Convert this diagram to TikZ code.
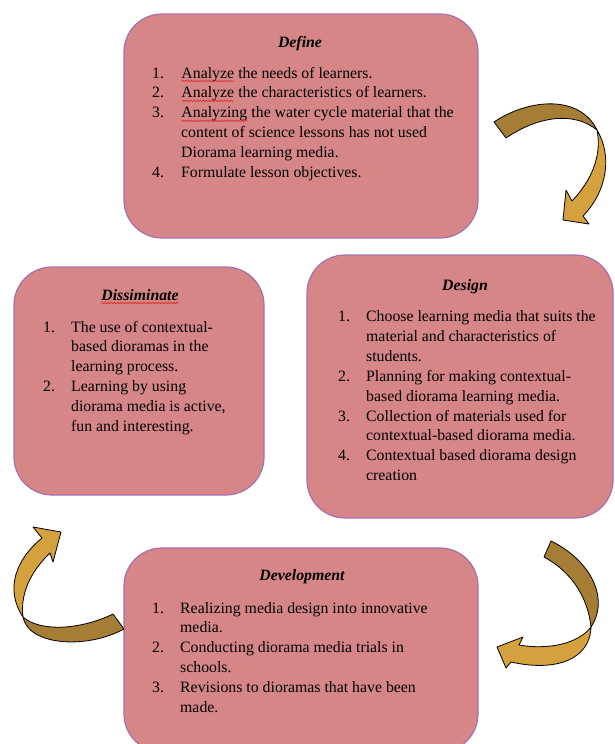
\documentclass[tikz,border=0pt]{standalone}
\usepackage{fontspec}
\setmainfont{Liberation Serif}
\usepackage{array}
\usetikzlibrary{decorations.pathmorphing}
\definecolor{boxfill}{RGB}{214,134,134}
\definecolor{boxline}{RGB}{165,112,176}
\definecolor{ribdark}{RGB}{165,125,52}
\definecolor{riblight}{RGB}{213,160,62}
\definecolor{wavered}{RGB}{220,30,30}
\newcommand\redwave[1]{\tikz[baseline=(w.base),x=1pt,y=1pt]{\node[anchor=base west,inner sep=0pt,outer sep=0pt] (w) at (0,0) {#1};
  \draw[wavered, line width=0.5pt, decorate, decoration={snake, amplitude=0.8pt, segment length=3pt}] ([yshift=-3pt]w.base west) -- ([yshift=-3pt]w.base east);}}
\tikzset{
  stage/.style={draw=boxline, line width=1.2pt, fill=boxfill, rounded corners=38pt},
  stagetitle/.style={anchor=base, inner sep=0pt, font=\fontsize{15.8}{19.9}\selectfont\bfseries\itshape},
  stageitems/.style={anchor=base west, inner sep=0pt, font=\fontsize{15.8}{19.9}\selectfont, align=left},
  ribbondark/.style={draw=black, line width=0.8pt, line join=round, fill=ribdark},
  ribbonlight/.style={draw=black, line width=0.8pt, line join=round, fill=riblight},
}
\begin{document}
\begin{tikzpicture}[x=1pt,y=-1pt]
\useasboundingbox (0,0) rectangle (614,744);
\clip (0,0) rectangle (614,744);

% boxes
\node[stage, minimum width=354pt, minimum height=224pt] (define) at (301,126) {};
\node[stage, minimum width=306pt, minimum height=263pt] (design) at (460,386.5) {};
\node[stage, minimum width=250pt, minimum height=228pt] (dissem) at (139,381) {};
\node[stage, minimum width=354pt, minimum height=204pt] (develop) at (301,650) {};

% Define
\node[stagetitle] (defineT) at (300,47) {Define};
\node[stageitems] (defineL) at (152,78) {\begin{tabular}[t]{@{}p{29pt}@{}l@{}}
1. & \redwave{Analyze} the needs of learners.\\
2. & \redwave{Analyze} the characteristics of learners.\\
3. & \redwave{Analyzing} the water cycle material that the\\
   & content of science lessons has not used\\
   & Diorama learning media.\\
4. & Formulate lesson objectives.
\end{tabular}};

% Design
\node[stagetitle] (designT) at (465,290) {Design};
\node[stageitems] (designL) at (338,321.5) {\begin{tabular}[t]{@{}p{28pt}@{}l@{}}
1. & Choose learning media that suits the\\
   & material and characteristics of\\
   & students.\\
2. & Planning for making contextual-\\
   & based diorama learning media.\\
3. & Collection of materials used for\\
   & contextual-based diorama media.\\
4. & Contextual based diorama design\\
   & creation
\end{tabular}};

% Dissiminate
\node[stagetitle] (dissemT) at (140,300) {\redwave{Dissiminate}};
\node[stageitems] (dissemL) at (43,332) {\begin{tabular}[t]{@{}p{28pt}@{}l@{}}
1. & The use of contextual-\\
   & based dioramas in the\\
   & learning process.\\
2. & Learning by using\\
   & diorama media is active,\\
   & fun and interesting.
\end{tabular}};

% Development
\node[stagetitle] (developT) at (302,580) {Development};
\node[stageitems] (developL) at (152,613) {\begin{tabular}[t]{@{}p{28pt}@{}l@{}}
1. & Realizing media design into innovative\\
   & media.\\
2. & Conducting diorama media trials in\\
   & schools.\\
3. & Revisions to dioramas that have been\\
   & made.
\end{tabular}};

% arrow: Define -> Design
\path[ribbondark] (494,122) .. controls (530,98) and (580,95) .. (597,130)
  .. controls (575,112) and (540,115) .. (506,138) -- cycle;
\path[ribbonlight] (597,130) .. controls (612,155) and (608,190) .. (583,216)
  -- (589,224) -- (563,220) -- (566,190) -- (572,201)
  .. controls (592,180) and (602,155) .. (597,130) -- cycle;

% arrow: Design -> Development
\path[ribbondark] (551,541) .. controls (590,560) and (610,598) .. (591,627)
  .. controls (588,598) and (572,572) .. (544,557) -- cycle;
\path[ribbonlight] (591,627) .. controls (578,644) and (548,650) .. (519,645)
  -- (523,637) -- (497,647) -- (506,668) -- (511,662)
  .. controls (555,672) and (590,660) .. (591,627) -- cycle;

% arrow: Development -> Dissiminate
\path[ribbondark] (113,614) .. controls (80,630) and (40,632) .. (23,617)
  .. controls (28,645) and (85,650) .. (124,629) -- cycle;
\path[ribbonlight] (23,617) .. controls (5,590) and (15,560) .. (42,538)
  -- (33,527) -- (61,532) -- (53,562) -- (50,553)
  .. controls (30,572) and (20,595) .. (23,617) -- cycle;
\end{tikzpicture}
\end{document}
